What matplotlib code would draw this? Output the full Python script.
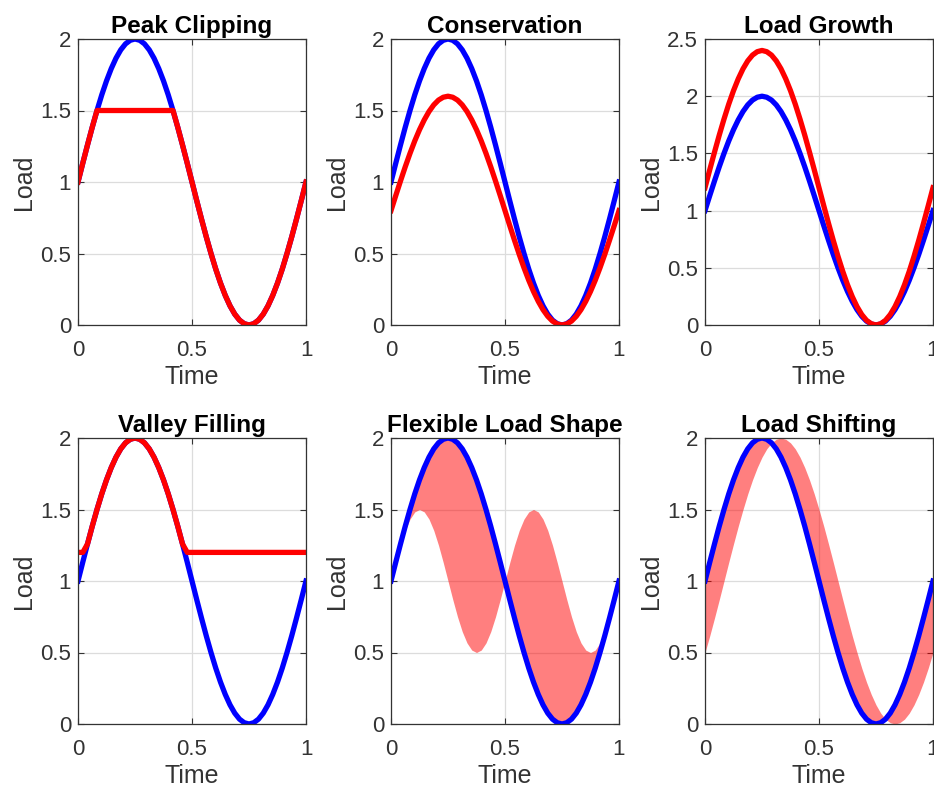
import numpy as np
import matplotlib
matplotlib.use("Agg")
from matplotlib import pyplot as plt

plt.rcParams['font.family'] = ['Liberation Sans', 'DejaVu Sans']

# load, 49 samples over one period
base_load = [1.000, 1.131, 1.259, 1.383, 1.500, 1.609, 1.707, 1.793, 1.866, 1.924,
             1.966, 1.991, 2.000, 1.991, 1.966, 1.924, 1.866, 1.793, 1.707, 1.609,
             1.500, 1.383, 1.259, 1.131, 1.000, 0.869, 0.741, 0.617, 0.500, 0.391,
             0.293, 0.207, 0.134, 0.076, 0.034, 0.009, 0.000, 0.009, 0.034, 0.076,
             0.134, 0.207, 0.293, 0.391, 0.500, 0.617, 0.741, 0.869, 1.000]

# lower edge of the red band in "Flexible Load Shape"
flex_load = [1.000, 1.129, 1.250, 1.354, 1.433, 1.483, 1.500, 1.483, 1.433, 1.354,
             1.250, 1.129, 1.000, 0.871, 0.750, 0.646, 0.567, 0.517, 0.500, 0.517,
             0.567, 0.646, 0.750, 0.871, 1.000, 1.129, 1.250, 1.354, 1.433, 1.483,
             1.500, 1.483, 1.433, 1.354, 1.250, 1.129, 1.000, 0.871, 0.750, 0.646,
             0.567, 0.517, 0.500, 0.517, 0.567, 0.646, 0.750, 0.871, 1.000]

# delayed curve bounding the band in "Load Shifting"
shift_load = [0.500, 0.617, 0.741, 0.869, 1.000, 1.131, 1.259, 1.383, 1.500, 1.609,
              1.707, 1.793, 1.866, 1.924, 1.966, 1.991, 2.000, 1.991, 1.966, 1.924,
              1.866, 1.793, 1.707, 1.609, 1.500, 1.383, 1.259, 1.131, 1.000, 0.869,
              0.741, 0.617, 0.500, 0.391, 0.293, 0.207, 0.134, 0.076, 0.034, 0.009,
              0.000, 0.009, 0.034, 0.076, 0.134, 0.207, 0.293, 0.391, 0.500]

clip_level = 1.5
conserve_factor = 0.8
growth_factor = 1.2
valley_level = 1.2

titles = ["Peak Clipping", "Conservation", "Load Growth",
          "Valley Filling", "Flexible Load Shape", "Load Shifting"]

t = np.linspace(0, 1, len(base_load))
base = np.array(base_load)
flex = np.array(flex_load)
shift = np.array(shift_load)

fig = plt.figure(figsize=(9.34, 7.87), dpi=100, facecolor="w")

W, H = 228/934., 286/787.
lefts = [78/934., 391/934., 705/934.]
bottoms = [1-325/787., 1-724/787.]

axes = []
for r in range(2):
    for c in range(3):
        axes.append(fig.add_axes([lefts[c], bottoms[r], W, H]))

lw = 3.8
blue = (0, 0, 1)
red = (1, 0, 0)

ax = axes[0]
ax.plot(t, base, color=blue, lw=lw)
ax.plot(t, np.minimum(base, clip_level), color=red, lw=lw)

ax = axes[1]
ax.plot(t, base, color=blue, lw=lw)
ax.plot(t, conserve_factor*base, color=red, lw=lw)

ax = axes[2]
ax.plot(t, base, color=blue, lw=lw)
ax.plot(t, growth_factor*base, color=red, lw=lw)

ax = axes[3]
ax.plot(t, base, color=blue, lw=lw)
ax.plot(t, np.maximum(base, valley_level), color=red, lw=lw)

ax = axes[4]
ax.fill_between(t, base, flex, color=red, alpha=0.5, lw=0)
ax.plot(t, base, color=blue, lw=lw)

ax = axes[5]
ax.fill_between(t, base, shift, color=red, alpha=0.5, lw=0)
ax.plot(t, base, color=blue, lw=lw)

for i, ax in enumerate(axes):
    ax.set_xlim(0, 1)
    ax.set_xticks([0, 0.5, 1])
    ax.set_xticklabels(["0", "0.5", "1"])
    if i == 2:
        ax.set_ylim(0, 2.5)
        ax.set_yticks([0, 0.5, 1, 1.5, 2, 2.5])
        ax.set_yticklabels(["0", "0.5", "1", "1.5", "2", "2.5"])
    else:
        ax.set_ylim(0, 2)
        ax.set_yticks([0, 0.5, 1, 1.5, 2])
        ax.set_yticklabels(["0", "0.5", "1", "1.5", "2"])
    ax.grid(True, color="#dcdcdc", lw=0.9)
    ax.set_axisbelow(True)
    ax.tick_params(direction="in", top=True, right=True, labelsize=16,
                   colors="#333333", length=4, pad=5)
    ax.tick_params(axis="x", pad=11)
    for s in ax.spines.values():
        s.set_color("#333333")
        s.set_linewidth(0.9)
    ax.set_title(titles[i], fontsize=17.5, fontweight="bold", pad=4)
    ax.set_xlabel("Time", fontsize=18, color="#333333", labelpad=3)
    ax.set_ylabel("Load", fontsize=18, color="#333333", labelpad=3)

plt.savefig("out.png", dpi=100, facecolor="w")
